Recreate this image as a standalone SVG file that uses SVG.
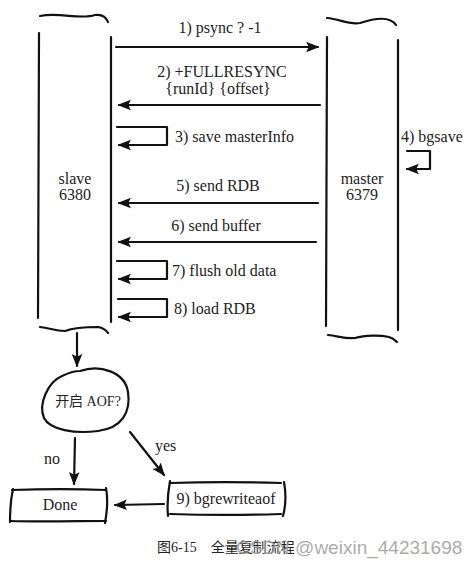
<svg xmlns="http://www.w3.org/2000/svg" width="476" height="566" viewBox="0 0 476 566">
<style>
.ln{fill:none;stroke:#111;stroke-width:2.2;stroke-linecap:round;stroke-linejoin:round}
text{font-family:"Liberation Serif",serif}
.t{font-size:16px;fill:#222}
.tc{text-anchor:middle}
.cjk{font-family:"Liberation Serif","Noto Sans CJK SC",serif}
.cap{font-size:14px;fill:#222}
.wm{font-family:"Liberation Sans",sans-serif;font-size:19px;fill:#9a9a9a;fill-opacity:0.85}
</style>
<defs>
<marker id="ah" viewBox="0 0 10 10" refX="9" refY="5" markerWidth="6" markerHeight="6" orient="auto-start-reverse" markerUnits="strokeWidth">
<path d="M0,1 L10,5 L0,9 L2,5 Z" fill="#111"/>
</marker>
</defs>
<rect width="476" height="566" fill="#fff"/>
<g id="slave">
<path class="ln" d="M40,16 C60,12 80,20 95,15 C102,14 106,17 108,22"/>
<path class="ln" d="M39,33 L38,318"/>
<path class="ln" d="M111,37 L111,322"/>
<path class="ln" d="M40,327 C50,328 55,331 65,331 C75,327 90,327 98,327 C104,328 106,330 108,333"/>
<text class="t tc" x="75" y="184">slave</text>
<text class="t tc" x="75" y="200">6380</text>
</g>
<g id="master">
<path class="ln" d="M327,18 C340,19 348,25 360,23 C375,18 390,16 396,25"/>
<path class="ln" d="M327,37 L326,326"/>
<path class="ln" d="M398,40 L398,330"/>
<path class="ln" d="M328,335 C338,336 345,339 355,338 C365,335 380,335 389,337 C393,338 395,340 397,342"/>
<text class="t tc" x="362" y="184">master</text>
<text class="t tc" x="362" y="200">6379</text>
</g>
<g id="connectors">
<line class="ln" x1="116" y1="47" x2="318" y2="47" marker-end="url(#ah)"/>
<line class="ln" x1="320" y1="105" x2="119" y2="105" marker-end="url(#ah)"/>
<path class="ln" d="M117,127 L167,127 L167,145 L119,145" marker-end="url(#ah)"/>
<path class="ln" d="M407,151 L430,151 L430,169 L407,169" marker-end="url(#ah)"/>
<line class="ln" x1="318" y1="203" x2="119" y2="203" marker-end="url(#ah)"/>
<line class="ln" x1="316" y1="242" x2="119" y2="242" marker-end="url(#ah)"/>
<path class="ln" d="M117,261 L167,261 L167,279 L119,279" marker-end="url(#ah)"/>
<path class="ln" d="M118,299 L167,299 L167,317 L119,317" marker-end="url(#ah)"/>
<line class="ln" x1="77" y1="333" x2="77" y2="366" marker-end="url(#ah)"/>
<line class="ln" x1="75" y1="438" x2="74" y2="484" marker-end="url(#ah)"/>
<line class="ln" x1="130" y1="432" x2="164" y2="475" marker-end="url(#ah)"/>
<line class="ln" x1="164" y1="504" x2="115" y2="505" marker-end="url(#ah)"/>
<text class="t tc" x="220" y="33">1) psync ? -1</text>
<text class="t tc" x="222" y="77">2) +FULLRESYNC</text>
<text class="t tc" x="218" y="94">{runId} {offset}</text>
<text class="t" x="175" y="142">3) save masterInfo</text>
<text class="t" x="401" y="142">4) bgsave</text>
<text class="t tc" x="218" y="191">5) send RDB</text>
<text class="t tc" x="216" y="231">6) send buffer</text>
<text class="t" x="172" y="276">7) flush old data</text>
<text class="t" x="174" y="314">8) load RDB</text>
<text class="t" x="44" y="464">no</text>
<text class="t" x="155" y="451">yes</text>
</g>
<g id="aof">
<path class="ln" d="M80,371 C100,364 125,372 128,392 C131,412 122,428 98,431 C75,434 50,430 44,418 C38,404 48,382 62,376 C68,373 74,371 80,371 Z"/>
<text class="t tc cjk" x="88" y="406" style="font-size:14px">开启 AOF?</text>
</g>
<g id="done">
<path class="ln" d="M12,490 C40,489 80,489 106,490"/>
<path class="ln" d="M10,521 C40,522 80,521 106,521"/>
<path class="ln" d="M13,489 C11,498 10,510 10,522"/>
<path class="ln" d="M106,488 C108,498 107,512 105,523"/>
<text class="t tc" x="60" y="510">Done</text>
</g>
<g id="bgrewriteaof">
<path class="ln" d="M170,483 C200,482 250,482 281,483"/>
<path class="ln" d="M170,514 C200,515 250,515 281,514"/>
<path class="ln" d="M170,481 C168,492 167,505 168,516"/>
<path class="ln" d="M284,482 C286,493 286,505 283,516"/>
<text class="t tc" x="226" y="504">9) bgrewriteaof</text>
</g>
<g id="caption">
<text class="cap cjk" x="157" y="552">图6-15　全量复制流程</text>
<text class="wm" x="236" y="554">CSDN @weixin_44231698</text>
</g>
</svg>
